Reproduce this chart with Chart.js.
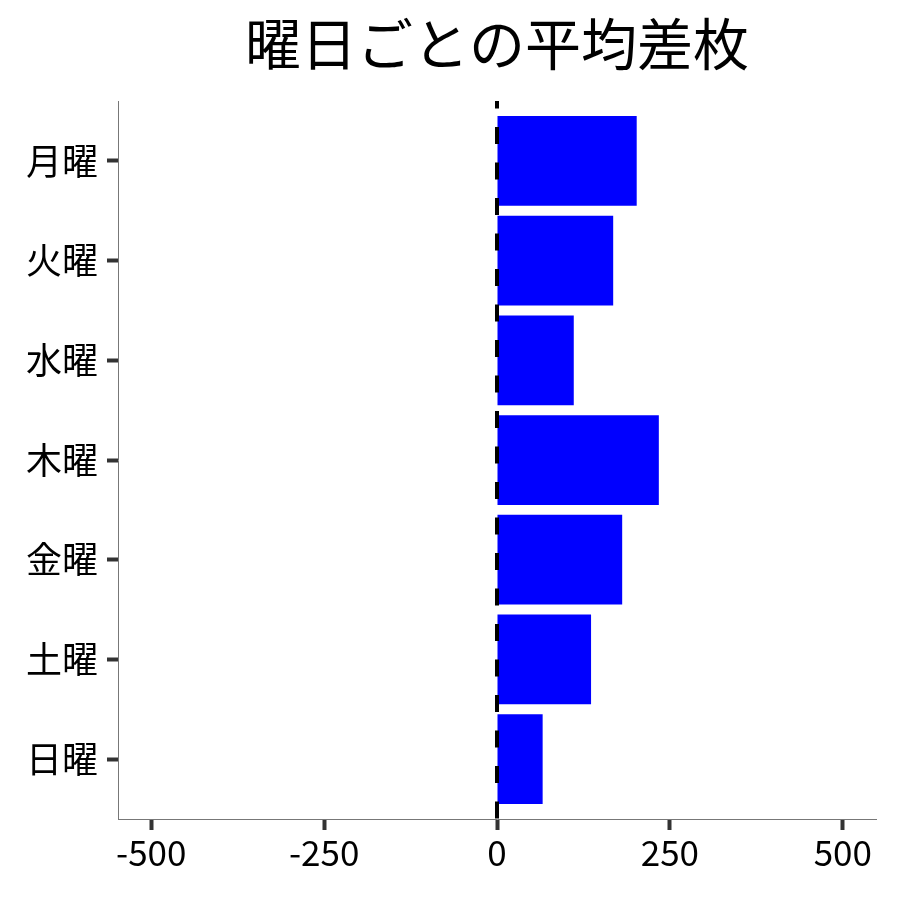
<!DOCTYPE html>
<html>
<head>
<meta charset="utf-8">
<script src="https://cdn.jsdelivr.net/npm/chart.js@4/dist/chart.umd.min.js"></script>
<style>
  html, body { margin: 0; padding: 0; background: #fff; }
  #wrap { width: 900px; height: 900px; }
</style>
</head>
<body>
<div id="wrap"><canvas id="chart" width="900" height="900"></canvas></div>
<script>
// data
const titleText = "曜日ごとの平均差枚";
const days = ["月曜", "火曜", "水曜", "木曜", "金曜", "土曜", "日曜"];
const avgDiff = [202, 168, 111, 234, 181, 136, 66];
const xTicks = [-500, -250, 0, 250, 500];
const refLine = 0;

const fontFamily = "'Noto Sans CJK JP', 'Noto Sans', sans-serif";

// title centred over the plot panel, like the original
const titlePlugin = {
    id: "panelTitle",
    afterDraw(chart) {
        const ctx = chart.ctx;
        const area = chart.chartArea;
        ctx.save();
        ctx.font = "56px " + fontFamily;
        ctx.fillStyle = "#000";
        ctx.textAlign = "center";
        ctx.textBaseline = "middle";
        ctx.fillText(titleText, (area.left + area.right) / 2, 44);
        ctx.restore();
    }
};

// dashed reference line at x = 0
const refLinePlugin = {
    id: "refLine",
    afterDatasetsDraw(chart) {
        const ctx = chart.ctx;
        const area = chart.chartArea;
        const x = chart.scales.x.getPixelForValue(refLine);
        ctx.save();
        ctx.beginPath();
        ctx.rect(area.left, area.top, area.right - area.left, area.bottom - area.top);
        ctx.clip();
        ctx.strokeStyle = "#000";
        ctx.lineWidth = 4;
        ctx.setLineDash([17, 18.5]);
        ctx.beginPath();
        ctx.moveTo(x, area.top - 9.5);
        ctx.lineTo(x, area.bottom);
        ctx.stroke();
        ctx.restore();
    }
};

const ctx = document.getElementById("chart").getContext("2d");
new Chart(ctx, {
    type: "bar",
    data: {
        datasets: [{
            data: avgDiff.map((v, i) => ({ x: v, y: i + 1 })),
            backgroundColor: "#0000ff",
            borderWidth: 0,
            barPercentage: 0.9,
            categoryPercentage: 1.0
        }]
    },
    options: {
        indexAxis: "y",
        responsive: false,
        animation: false,
        devicePixelRatio: 1,
        layout: { padding: { top: 101, right: 24, bottom: 0, left: 0 } },
        plugins: {
            legend: { display: false },
            title: { display: false },
            tooltip: { enabled: false }
        },
        scales: {
            x: {
                type: "linear",
                min: -548,
                max: 548,
                afterBuildTicks(scale) {
                    scale.ticks = xTicks.map(v => ({ value: v }));
                },
                afterFit(scale) { scale.height = 81; },
                grid: {
                    drawOnChartArea: false,
                    tickLength: 11,
                    tickWidth: 4,
                    tickColor: "#333"
                },
                border: { display: true, color: "#777", width: 1 },
                ticks: {
                    color: "#000",
                    padding: 2,
                    maxRotation: 0,
                    font: { family: fontFamily, size: 35 },
                    callback: v => String(v)
                }
            },
            y: {
                type: "linear",
                reverse: true,
                offset: false,
                min: 0.4,
                max: 7.6,
                afterBuildTicks(scale) {
                    scale.ticks = days.map((d, i) => ({ value: i + 1 }));
                },
                afterFit(scale) { scale.width = 118; },
                grid: {
                    offset: false,
                    drawOnChartArea: false,
                    tickLength: 11,
                    tickWidth: 4,
                    tickColor: "#333"
                },
                border: { display: true, color: "#777", width: 1 },
                ticks: {
                    color: "#000",
                    padding: 9,
                    font: { family: fontFamily, size: 36 },
                    callback: v => days[v - 1] || ""
                }
            }
        }
    },
    plugins: [titlePlugin, refLinePlugin]
});
</script>
</body>
</html>
